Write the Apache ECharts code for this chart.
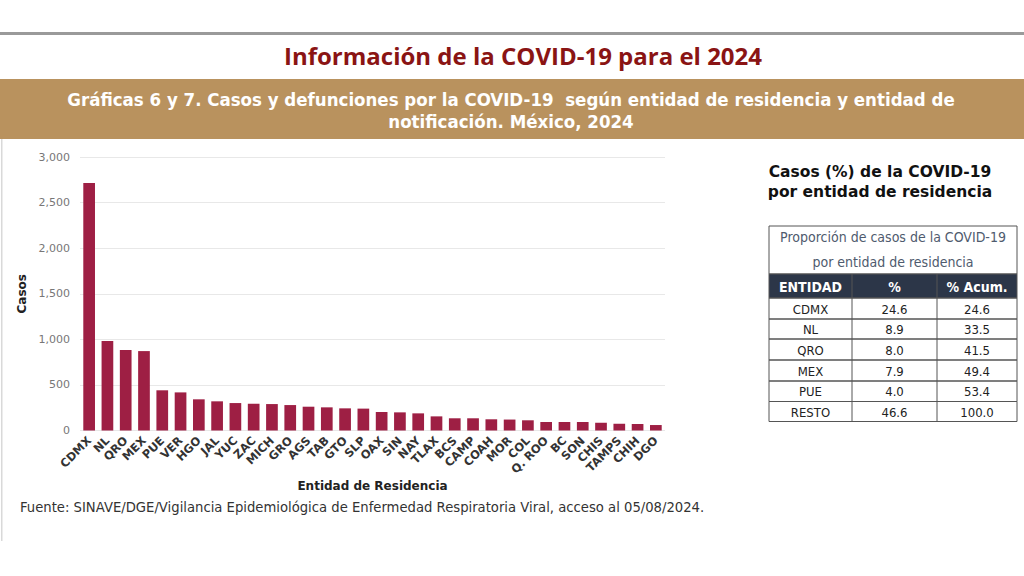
<!DOCTYPE html>
<html>
<head>
<meta charset="utf-8">
<script src="https://cdn.jsdelivr.net/npm/echarts@6/dist/echarts.min.js"></script>
<style>
html,body{margin:0;padding:0;background:#fff;}
#chart{width:1024px;height:576px;}
</style>
</head>
<body>
<div id="chart"></div>
<script>
const categories = ["CDMX","NL","QRO","MEX","PUE","VER","HGO","JAL","YUC","ZAC","MICH","GRO","AGS","TAB","GTO","SLP","OAX","SIN","NAY","TLAX","BCS","CAMP","COAH","MOR","COL","Q. ROO","BC","SON","CHIS","TAMPS","CHIH","DGO"];
const casos = [2714,982,882,871,441,418,342,320,301,294,290,279,261,254,243,240,203,199,188,155,134,134,123,120,112,93,93,93,85,74,71,60];
const yTicks = [0,500,1000,1500,2000,2500,3000];

const tableEntidad = ["CDMX","NL","QRO","MEX","PUE","RESTO"];
const tablePct = ["24.6","8.9","8.0","7.9","4.0","46.6"];
const tableAcum = ["24.6","33.5","41.5","49.4","53.4","100.0"];
const tableHeader = ["ENTIDAD","%","% Acum."];

const titleText = "Información de la COVID-19 para el 2024";
const subtitleLines = ["Gráficas 6 y 7. Casos y defunciones por la COVID-19  según entidad de residencia y entidad de","notificación. México, 2024"];
const sideTitle = ["Casos (%) de la COVID-19","por entidad de residencia"];
const tableTitle = ["Proporción de casos de la COVID-19","por entidad de residencia"];
const sourceText = "Fuente: SINAVE/DGE/Vigilancia Epidemiológica de Enfermedad Respiratoria Viral, acceso al 05/08/2024.";

const chart = echarts.init(document.getElementById('chart'), null, {renderer:'svg'});

const narrow = '"DejaVu Sans Condensed","Liberation Sans Narrow","Open Sans",sans-serif';
const wide = '"DejaVu Sans","Open Sans",sans-serif';

const colX = [769, 852, 937, 1017];
const rowY = [298, 319, 339, 360, 381, 401.5, 421.5];
const els = [];
els.push({type:'rect', shape:{x:0,y:32,width:1024,height:3}, style:{fill:'#9a9a9a'}});
els.push({type:'rect', shape:{x:1,y:139,width:1.5,height:402}, style:{fill:'#d9d9d9'}});
els.push({type:'text', x:523, y:55, style:{text:titleText, fill:'#8a1414', font:'bold 24px "Open Sans",sans-serif', textAlign:'center', textVerticalAlign:'middle'}});
els.push({type:'rect', shape:{x:0,y:79,width:1024,height:60}, style:{fill:'#b9925e'}});
els.push({type:'text', x:511, y:110.5, style:{text:subtitleLines.join('\n'), fill:'#ffffff', font:'bold 18.5px '+narrow, textAlign:'center', textVerticalAlign:'middle', lineHeight:22}});
els.push({type:'text', x:880, y:182, style:{text:sideTitle.join('\n'), fill:'#111111', font:'bold 15.5px '+wide, textAlign:'center', textVerticalAlign:'middle', lineHeight:20}});
els.push({type:'rect', shape:{x:769,y:226,width:248,height:48}, style:{fill:'#ffffff', stroke:'#555555', lineWidth:1}});
els.push({type:'text', x:893, y:249.5, style:{text:tableTitle.join('\n'), fill:'#4f5b6e', font:'14px '+narrow, textAlign:'center', textVerticalAlign:'middle', lineHeight:25}});
els.push({type:'rect', shape:{x:769,y:274,width:248,height:24}, style:{fill:'#2c3648', stroke:'#555555', lineWidth:1}});
tableHeader.forEach((t,i)=>{
  els.push({type:'text', x:(colX[i]+colX[i+1])/2, y:286.5, style:{text:t, fill:'#ffffff', font:'bold 14px '+narrow, textAlign:'center', textVerticalAlign:'middle'}});
});
const cols = [tableEntidad, tablePct, tableAcum];
for (let r=0;r<tableEntidad.length;r++){
  els.push({type:'rect', shape:{x:769,y:rowY[r],width:248,height:rowY[r+1]-rowY[r]}, style:{fill:'none', stroke:'#555555', lineWidth:1}});
  for (let c=0;c<3;c++){
    els.push({type:'text', x:(colX[c]+colX[c+1])/2, y:(rowY[r]+rowY[r+1])/2+0.5, style:{text:cols[c][r], fill:'#222222', font:'13px '+narrow, textAlign:'center', textVerticalAlign:'middle'}});
  }
}
for (let c=1;c<3;c++){
  els.push({type:'line', shape:{x1:colX[c],y1:274,x2:colX[c],y2:421.5}, style:{stroke:'#555555', lineWidth:1}});
}
els.push({type:'text', x:20, y:507, style:{text:sourceText, fill:'#333333', font:'13.2px '+wide, textAlign:'left', textVerticalAlign:'middle'}});

chart.setOption({
  animation:false,
  backgroundColor:'#ffffff',
  grid:{left:80, right:359, top:157, bottom:145.5, containLabel:false},
  xAxis:{
    type:'category', data:categories,
    name:'Entidad de Residencia', nameLocation:'middle', nameGap:49,
    nameTextStyle:{fontFamily:wide, fontWeight:'bold', fontSize:12, color:'#222'},
    axisLine:{show:false}, axisTick:{show:false},
    axisLabel:{interval:0, rotate:45, fontFamily:wide, fontWeight:'bold', fontSize:11.5, color:'#333', margin:8}
  },
  yAxis:{
    type:'value', min:yTicks[0], max:yTicks[yTicks.length-1], interval:500,
    name:'Casos', nameLocation:'middle', nameGap:47, nameRotate:90,
    nameTextStyle:{fontFamily:wide, fontWeight:'bold', fontSize:12, color:'#222'},
    axisLine:{show:false}, axisTick:{show:false},
    axisLabel:{fontFamily:wide, fontSize:11, color:'#777', margin:10, formatter:v=>v.toLocaleString('en-US')},
    splitLine:{lineStyle:{color:'#e8e8e8', width:1}}
  },
  series:[{type:'bar', data:casos, barWidth:'64%', itemStyle:{color:'#9e1f44'}}],
  graphic:{elements:els}
});
</script>
</body>
</html>
